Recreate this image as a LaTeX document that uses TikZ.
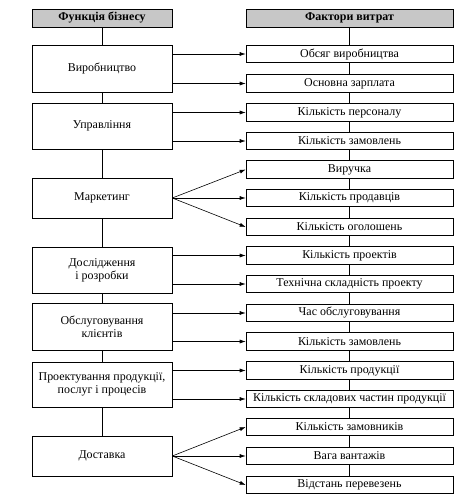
\documentclass[tikz,border=0pt]{standalone}
\usepackage{fontspec}
\setmainfont{Liberation Serif}
\usetikzlibrary{arrows.meta}

\begin{document}
\begin{tikzpicture}[x=1bp,y=-1bp,
    line width=0.6pt,
    headbox/.style={draw,fill=black!22,inner sep=0pt,minimum height=18bp,
        font=\fontsize{12}{13}\selectfont\bfseries},
    funcbox/.style={draw,fill=white,inner sep=1bp,minimum width=140bp,align=center,
        font=\fontsize{12}{13}\selectfont},
    factbox/.style={draw,fill=white,inner sep=0pt,minimum width=207bp,minimum height=17.5bp,
        font=\fontsize{12}{13}\selectfont},
    arr/.style={-{Latex[length=6bp,width=4bp]}}]
  \useasboundingbox (0,0) rectangle (473,504);

  % заголовки
  \node[headbox,minimum width=140bp] (hf) at (102,18) {Функція бізнесу};
  \node[headbox,minimum width=207bp] (hv) at (349.5,18) {Фактори витрат};

  % функції бізнесу
  \node[funcbox,minimum height=47bp] (vyr) at (102,68.5) {Виробництво};
  \node[funcbox,minimum height=46bp] (upr) at (102,126) {Управління};
  \node[funcbox,minimum height=40bp] (mark) at (102,198) {Маркетинг};
  \node[funcbox,minimum height=46bp] (dosl) at (102,270) {Дослідження\\і розробки};
  \node[funcbox,minimum height=47bp] (obsl) at (102,326.5) {Обслуговування\\клієнтів};
  \node[funcbox,minimum height=45bp] (proekt) at (102,384.5) {Проектування продукції,\\послуг і процесів};
  \node[funcbox,minimum height=40bp] (dost) at (102,456) {Доставка};

  % фактори витрат
  \foreach \name/\yy/\txt in {f1/54/Обсяг виробництва, f2/83.5/Основна зарплата,
      f3/112.5/Кількість персоналу, f4/141/Кількість замовлень,
      f5/169.5/Виручка, f6/198/Кількість продавців, f7/227/Кількість оголошень,
      f8/255.5/Кількість проектів, f9/284/Технічна складність проекту,
      f10/313/Час обслуговування, f11/341.5/Кількість замовлень,
      f12/370.5/Кількість продукції, f13/399/Кількість складових частин продукції,
      f14/427/Кількість замовників, f15/456/Вага вантажів, f16/485/Відстань перевезень}
    \node[factbox] (\name) at (349.5,\yy) {\txt};

  % вертикальні лінії
  \foreach \a/\b in {hf/vyr, vyr/upr, upr/mark, mark/dosl, dosl/obsl, obsl/proekt, proekt/dost}
    \draw (\a.south) -- (\b.north);
  \foreach \a/\b in {hv/f1, f1/f2, f2/f3, f3/f4, f4/f5, f5/f6, f6/f7, f7/f8,
      f8/f9, f9/f10, f10/f11, f11/f12, f12/f13, f13/f14, f14/f15, f15/f16}
    \draw (\a.south) -- (\b.north);

  % стрілки
  \foreach \src/\dst in {vyr/f1, vyr/f2, upr/f3, upr/f4, dosl/f8, dosl/f9,
      obsl/f10, obsl/f11, proekt/f12, proekt/f13}
    \draw[arr] (\src.east |- \dst.west) -- (\dst.west);
  \foreach \src/\dst in {mark/f5, mark/f6, mark/f7, dost/f14, dost/f15, dost/f16}
    \draw[arr] (\src.east) -- (\dst.west);
\end{tikzpicture}
\end{document}
